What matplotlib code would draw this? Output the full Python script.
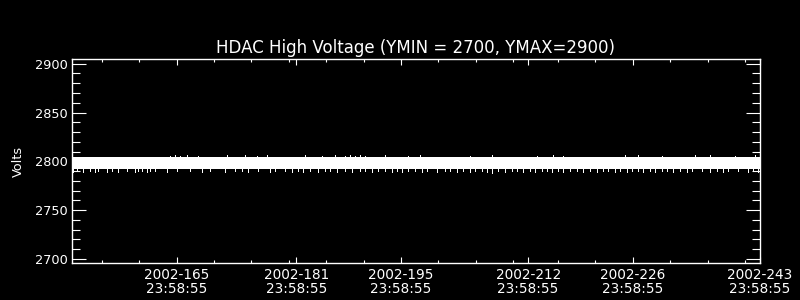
import matplotlib
matplotlib.use("Agg")
import matplotlib.pyplot as plt
from matplotlib.ticker import FixedLocator, MultipleLocator

# ---- data (day of year 2002, values in Volts) ----
title = "HDAC High Voltage (YMIN = 2700, YMAX=2900)"
ylabel = "Volts"
x_range = [151.0, 243.0]
y_range = [2696.2, 2904.5]
yticks = [2700, 2750, 2800, 2850, 2900]
xtick_days = [165, 181, 195, 212, 226, 243]
xtick_labels = ["2002-165\n23:58:55", "2002-181\n23:58:55", "2002-195\n23:58:55",
                "2002-212\n23:58:55", "2002-226\n23:58:55", "2002-243\n23:58:55"]
xminor_days = [155, 160, 170, 175, 180, 185, 190, 200, 205, 210,
               216, 221, 231, 236, 241]

# dense core of the voltage trace (segments separated by a short data gap)
band_start = [151.0, 207.23]
band_end = [207.17, 243.0]
band_top = [2804.0, 2804.0]
band_bottom = [2792.5, 2792.5]

# individual low excursions
low_days = [151.13, 151.67, 152.47, 153.41, 154.08, 154.48, 155.68, 156.35, 157.15,
            158.36, 159.43, 159.83, 160.37, 161.03, 161.44, 162.11, 163.71, 165.05,
            166.79, 168.39, 169.46, 171.47, 172.81, 173.75, 174.55, 175.89, 177.49,
            178.16, 179.50, 180.44, 181.24, 181.91, 182.84, 183.91, 184.85, 185.52,
            186.46, 187.53, 188.46, 189.53, 190.20, 191.14, 191.94, 192.88, 193.82,
            194.48, 195.15, 195.96, 196.89, 197.83, 198.50, 199.84, 200.91, 201.58,
            202.51, 203.31, 204.25, 204.92, 205.86, 206.53, 207.15, 208.00, 208.94,
            209.87, 210.54, 211.34, 212.28, 212.95, 213.88, 214.55, 215.22, 216.03,
            216.70, 217.63, 218.57, 219.37, 220.31, 221.24, 222.05, 222.71, 223.65,
            224.32, 225.26, 225.93, 226.73, 227.40, 228.34, 229.01, 229.94, 230.61,
            231.41, 232.35, 233.29, 233.96, 235.29, 236.36, 237.30, 238.10, 238.77,
            240.11, 241.45, 242.12, 242.79]
low_vals = [2789.5, 2790.0, 2789.5, 2790.5, 2789.5, 2790.0, 2789.5, 2790.5, 2789.5,
            2790.0, 2789.5, 2790.5, 2790.0, 2789.5, 2790.5, 2790.0, 2789.5, 2790.0,
            2790.5, 2789.5, 2790.0, 2789.5, 2790.5, 2790.0, 2789.5, 2790.0, 2789.5,
            2790.5, 2790.0, 2789.5, 2790.0, 2789.0, 2790.5, 2789.5, 2790.0, 2790.5,
            2789.5, 2790.0, 2789.5, 2790.5, 2790.0, 2789.5, 2790.0, 2790.5, 2789.5,
            2790.0, 2789.5, 2790.5, 2790.0, 2789.5, 2790.0, 2789.5, 2790.5, 2790.0,
            2789.5, 2790.0, 2789.5, 2790.5, 2790.0, 2789.5, 2788.5, 2790.0, 2789.5,
            2790.5, 2790.0, 2789.5, 2790.0, 2789.5, 2790.5, 2790.0, 2789.5, 2790.0,
            2789.5, 2790.5, 2790.0, 2789.5, 2790.0, 2789.5, 2790.5, 2790.0, 2789.5,
            2790.0, 2789.5, 2790.5, 2790.0, 2789.5, 2790.0, 2789.5, 2790.5, 2790.0,
            2789.5, 2790.0, 2789.5, 2790.5, 2790.0, 2789.5, 2790.0, 2789.5, 2790.5,
            2790.0, 2789.5, 2790.0, 2789.5]

# individual high excursions
high_days = [164.11, 164.78, 165.45, 166.39, 167.86, 171.74, 174.15, 175.75, 177.09,
             182.17, 184.45, 186.19, 187.53, 188.20, 188.86, 189.53, 190.20, 192.88,
             195.96, 197.56, 204.25, 207.20, 213.22, 215.36, 216.70, 225.00, 226.73,
             229.94, 234.36, 236.36, 239.71, 242.39]
high_vals = [2805.5, 2806.0, 2805.5, 2806.5, 2805.5, 2806.0, 2806.5, 2805.5, 2806.0,
             2806.0, 2805.5, 2806.0, 2805.5, 2806.0, 2805.5, 2806.0, 2805.5, 2806.5,
             2805.5, 2806.0, 2805.5, 2806.5, 2805.5, 2806.0, 2805.5, 2806.0, 2806.5,
             2805.5, 2806.0, 2806.5, 2805.5, 2806.0]

# ---- figure ----
plt.rcParams['font.family'] = ['DejaVu Sans']
fig = plt.figure(figsize=(8, 3), dpi=100, facecolor='black')
ax = fig.add_axes([0.09, 0.1243, 0.86, 0.678])
ax.set_facecolor('black')

for s, e, t, b in zip(band_start, band_end, band_top, band_bottom):
    ax.fill_between([s, e], [b, b], [t, t], color='white', linewidth=0, antialiased=False)
band_mid = (band_top[0] + band_bottom[0]) / 2
ax.vlines(low_days, band_mid, low_vals, color='white', linewidth=0.72, antialiased=False)
ax.vlines(high_days, band_mid, high_vals, color='white', linewidth=0.72, antialiased=False)

ax.set_xlim(x_range)
ax.set_ylim(y_range)

for sp in ax.spines.values():
    sp.set_color('white')
    sp.set_linewidth(1.0)

ax.xaxis.set_major_locator(FixedLocator(xtick_days))
ax.xaxis.set_minor_locator(FixedLocator(xminor_days))
ax.set_xticklabels(xtick_labels, linespacing=1.05)
ax.yaxis.set_major_locator(FixedLocator(yticks))
ax.yaxis.set_minor_locator(MultipleLocator(10))

ax.tick_params(axis='x', which='major', direction='in', length=4.3, width=0.8,
               colors='white', labelsize=9.8, pad=3.5, top=True, bottom=True)
ax.tick_params(axis='x', which='minor', direction='in', length=2.5, width=0.8,
               colors='white', top=True, bottom=True)
ax.tick_params(axis='y', which='major', direction='in', length=10, width=0.8,
               colors='white', labelsize=9.3, pad=3, left=True, right=True)
ax.tick_params(axis='y', which='minor', direction='in', length=5.7, width=0.8,
               colors='white', left=True, right=True)

fig.text(416 / 800, 1 - 48 / 300, title, color='white', fontsize=12,
         ha='center', va='center')
fig.text(18 / 800, 1 - 161.5 / 300, ylabel, color='white', fontsize=9.3,
         rotation=90, ha='center', va='center')

fig.savefig('out.png', dpi=100, facecolor='black')
